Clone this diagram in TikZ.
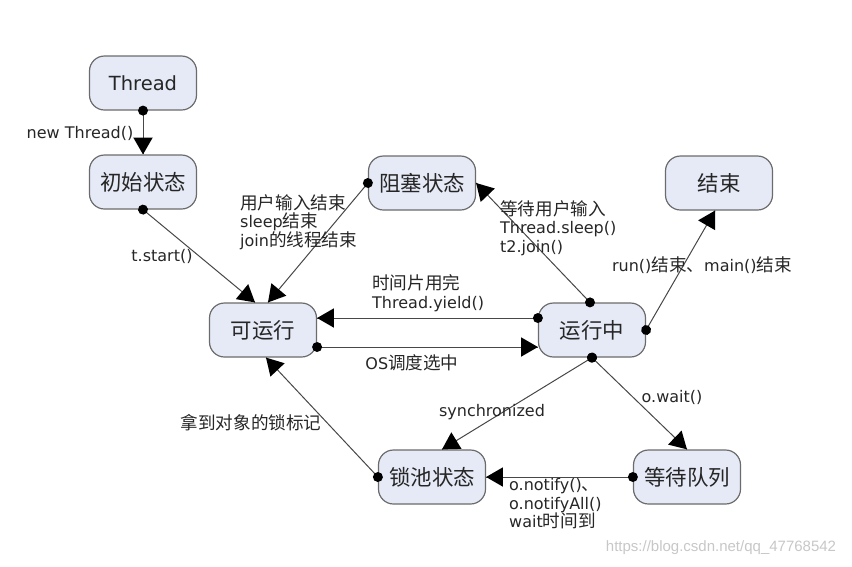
\documentclass[tikz,border=0pt]{standalone}
\usepackage{fontspec}
\usepackage{tikz}
\setmainfont{DejaVu Sans}
\newfontfamily\cjk[Scale=1.1]{Noto Sans CJK SC}
\newfontfamily\wmfont{Liberation Sans}
\newcommand{\cn}[1]{{\cjk #1}}
\usetikzlibrary{arrows}
\usetikzlibrary{decorations.markings}
\definecolor{boxfill}{HTML}{E6EAF6}
\definecolor{boxline}{HTML}{6B6B6B}
\definecolor{wire}{HTML}{474747}
\definecolor{ink}{HTML}{262626}
\tikzset{state/.style = {draw=boxline, fill=boxfill, line width=1.2pt,
                         rounded corners=15pt, minimum width=107pt,
                         minimum height=54pt, text=ink,
                         font=\fontsize{19.5}{22}\selectfont}}
\tikzset{lbl/.style = {inner sep=0pt, text=ink, align=left,
                       font=\fontsize{16}{18.5}\selectfont}}
\tikzset{trans/.style = {draw=wire, line width=1pt,
                         decoration={markings,
                                     mark=at position 0 with {\fill[black] (0,0) circle (5pt);},
                                     mark=at position 1 with {\arrow[black, scale=2.3]{triangle 60}}},
                         postaction={decorate}}}

\begin{document}
\begin{tikzpicture}[x=1pt, y=-1pt]
    \useasboundingbox (0,0) rectangle (852,566);
    \node [state] (thread) at (143,83) {Thread};
    \node [state] (init) at (143,182) {\cn{初始状态}};
    \node [state] (blocked) at (422,183) {\cn{阻塞状态}};
    \node [state] (dead) at (719,183) {\cn{结束}};
    \node [state] (runnable) at (263,330) {\cn{可运行}};
    \node [state] (running) at (592,330) {\cn{运行中}};
    \node [state] (lockpool) at (432,477) {\cn{锁池状态}};
    \node [state] (waitq) at (687,477) {\cn{等待队列}};

    \draw [trans] (thread.south) -- (init.north);
    \draw [trans] (init.south) -- ([xshift=-8pt]runnable.north);
    \draw [trans] (blocked.west) -- ([xshift=5pt]runnable.north);
    \draw [trans] ([xshift=-2pt]running.north) -- (blocked.east);
    \draw [trans] (running.east) -- ([xshift=-4pt]dead.south);
    \draw [trans] ([yshift=12pt]running.west) -- ([yshift=12pt]runnable.east);
    \draw [trans] ([yshift=-17pt]runnable.east) -- ([yshift=-17pt]running.west);
    \draw [trans] (running.south) -- ([xshift=10pt]lockpool.north);
    \draw [trans] (running.south) -- (waitq.north);
    \draw [trans] (waitq.west) -- (lockpool.east);
    \draw [trans] (lockpool.west) -- ([xshift=3pt]runnable.south);

    \node [lbl] (newlbl) at (80,133) {new Thread()};
    \node [lbl] (startlbl) at (162,256) {t.start()};
    \node [lbl, anchor=west] (wakelbl) at (240,222) {\cn{用户输入结束}\\sleep\cn{结束}\\join\cn{的线程结束}};
    \node [lbl, anchor=west] (sleeplbl) at (500,228) {\cn{等待用户输入}\\Thread.sleep()\\t2.join()};
    \node [lbl] (endlbl) at (702,265) {run()\cn{结束、}main()\cn{结束}};
    \node [lbl, anchor=west] (yieldlbl) at (372,293) {\cn{时间片用完}\\Thread.yield()};
    \node [lbl] (oslbl) at (412,363) {OS\cn{调度选中}};
    \node [lbl] (synclbl) at (492,412) {synchronized};
    \node [lbl] (waitlbl) at (672,397) {o.wait()};
    \node [lbl, anchor=west] (notifylbl) at (509,504) {o.notify()\cn{、}\\o.notifyAll()\\wait\cn{时间到}};
    \node [lbl] (locklbl) at (251,423) {\cn{拿到对象的锁标记}};

    \node [inner sep=0pt, text=black!22, font=\wmfont\fontsize{15}{18}\selectfont] (mark) at (721,548) {https://blog.csdn.net/qq\_47768542};
\end{tikzpicture}
\end{document}
